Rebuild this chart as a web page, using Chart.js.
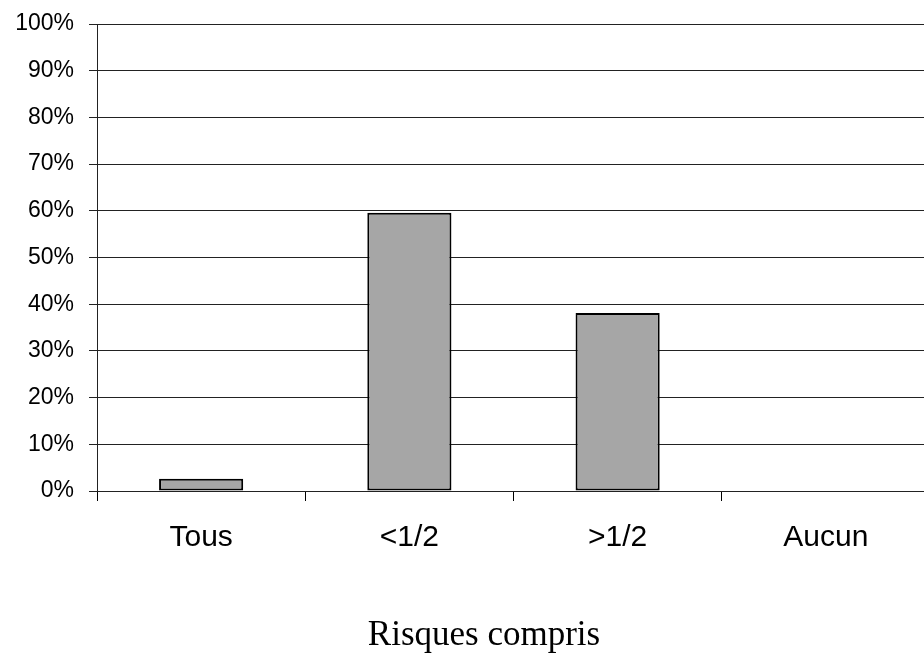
<!DOCTYPE html>
<html>
<head>
<meta charset="utf-8">
<script src="https://cdn.jsdelivr.net/npm/chart.js@4/dist/chart.umd.min.js"></script>
<style>
  html, body { margin: 0; padding: 0; background: #fff; overflow: hidden; }
  canvas { display: block; }
</style>
</head>
<body>
<canvas id="chart" width="930" height="661"></canvas>
<script>
// values (percent)
const categories = ["Tous", "<1/2", ">1/2", "Aucun"]
const shares = [2.6, 59.6, 38.1, 0]
const yTicks = [0, 10, 20, 30, 40, 50, 60, 70, 80, 90, 100]
const axisTitle = "Risques compris"

// draws the axis title under the labels, serif like the original
const titlePlugin = {
  id: "axisTitle",
  afterDraw(chart) {
    const ctx = chart.ctx
    ctx.save()
    ctx.font = "35px 'Liberation Serif', 'Times New Roman', serif"
    ctx.fillStyle = "#000"
    ctx.textAlign = "center"
    ctx.textBaseline = "alphabetic"
    ctx.fillText(axisTitle, 484, 645)
    ctx.restore()
  }
}

const myChart = new Chart(document.getElementById("chart"), {
  type: "bar",
  data: {
    labels: categories,
    datasets: [{
      data: shares,
      backgroundColor: "#a6a6a6",
      borderColor: "#000",
      borderWidth: 2,
      borderSkipped: false,
      categoryPercentage: 1,
      barPercentage: 0.404
    }]
  },
  options: {
    responsive: false,
    animation: false,
    devicePixelRatio: 1,
    layout: { padding: { top: 24, right: 0, left: 0, bottom: 0 } },
    plugins: {
      legend: { display: false },
      tooltip: { enabled: false }
    },
    scales: {
      x: {
        afterFit: (scale) => { scale.height = 170; scale.paddingLeft = 0; scale.paddingRight = 0 },
        grid: {
          offset: true,
          drawOnChartArea: false,
          drawTicks: true,
          tickLength: 10,
          color: "#000"
        },
        border: { display: false },
        ticks: {
          color: "#000",
          padding: 19,
          maxRotation: 0,
          font: { family: "'Liberation Sans', Arial, sans-serif", size: 30 }
        }
      },
      y: {
        min: 0,
        max: 100,
        afterFit: (scale) => { scale.width = 97; scale.paddingTop = 0; scale.paddingBottom = 0 },
        afterBuildTicks: (scale) => { scale.ticks = yTicks.map(v => ({ value: v })) },
        grid: {
          color: "#222",
          lineWidth: 1,
          tickLength: 8,
          drawTicks: true
        },
        border: { display: true, color: "#222", width: 1 },
        ticks: {
          color: "#000",
          padding: 15,
          callback: (v) => v + "%",
          font: { family: "'Liberation Sans', Arial, sans-serif", size: 23 }
        }
      }
    }
  },
  plugins: [titlePlugin]
})
</script>
</body>
</html>
